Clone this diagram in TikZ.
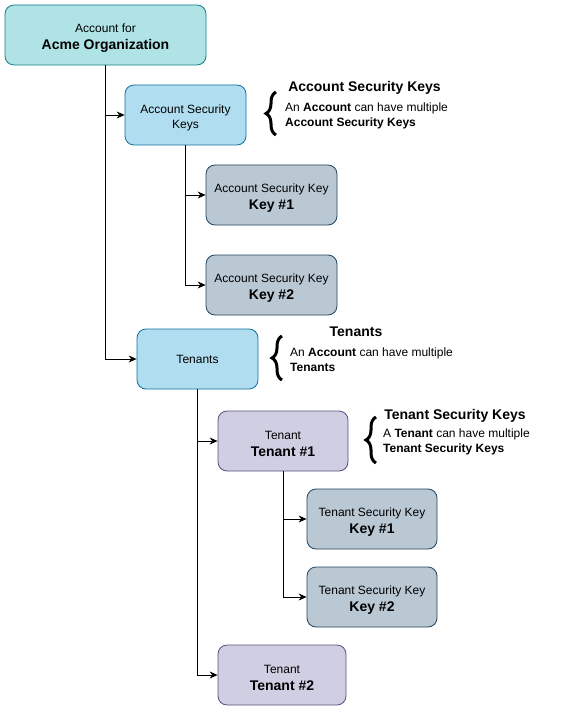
\documentclass[tikz,border=0pt]{standalone}
\usepackage{fontspec}
\setmainfont{Liberation Sans}
\usetikzlibrary{arrows.meta,decorations.pathreplacing}

\definecolor{acmefill}{HTML}{B0E3E6}
\definecolor{acmeline}{HTML}{0E8088}
\definecolor{bluefill}{HTML}{B1DDF0}
\definecolor{blueline}{HTML}{10739E}
\definecolor{keyfill}{HTML}{BAC8D3}
\definecolor{keyline}{HTML}{23445D}
\definecolor{tenfill}{HTML}{D0CEE2}
\definecolor{tenline}{HTML}{56517E}

\newcommand{\boldline}[1]{{\fontsize{14}{17}\selectfont\bfseries #1}}
\newcommand{\twoline}[2]{\rule{0pt}{15pt}#1\\[2pt]\boldline{#2}}

\begin{document}
\begin{tikzpicture}[x=1pt, y=-1pt,
    box/.style={draw, rounded corners=9pt, line width=0.8pt, minimum height=60pt,
      align=center, inner sep=2pt, font=\fontsize{12}{15}\selectfont},
    acmebox/.style={box, fill=acmefill, draw=acmeline, minimum width=201pt},
    groupbox/.style={box, fill=bluefill, draw=blueline, minimum width=121pt},
    keybox/.style={box, fill=keyfill, draw=keyline, minimum width=131pt},
    tenantbox/.style={box, fill=tenfill, draw=tenline, minimum width=130pt},
    link/.style={line width=0.8pt, -{Stealth[length=8pt,width=7pt]}},
    bracket/.style={line width=3pt, decorate, decoration={brace, amplitude=10pt}},
    notetitle/.style={font=\fontsize{14}{17}\selectfont\bfseries, inner sep=0pt},
    notetext/.style={anchor=north west, align=left, inner sep=0pt, font=\fontsize{12}{14.5}\selectfont}]
  \useasboundingbox (0,0) rectangle (564,711);

  \node[acmebox] (acme) at (105.5,35) {\twoline{Account for}{Acme Organization}};
  \node[groupbox] (ask) at (185.5,115) {\rule{0pt}{15pt}Account Security\\Keys};
  \node[keybox] (akey1) at (271.5,195) {\twoline{Account Security Key}{Key \#1}};
  \node[keybox] (akey2) at (271.5,285) {\twoline{Account Security Key}{Key \#2}};
  \node[groupbox] (tenants) at (197.5,359) {Tenants};
  \node[tenantbox] (tenant1) at (283,441) {\twoline{Tenant}{Tenant \#1}};
  \node[keybox, minimum width=130pt] (tkey1) at (372,519) {\twoline{Tenant Security Key}{Key \#1}};
  \node[keybox, minimum width=130pt] (tkey2) at (372,597) {\twoline{Tenant Security Key}{Key \#2}};
  \node[tenantbox, minimum width=128pt] (tenant2) at (282,675) {\twoline{Tenant}{Tenant \#2}};

  \draw[link] (acme.south) |- (ask.west);
  \draw[link] (acme.south) |- (tenants.west);
  \draw[link] (ask.south) |- (akey1.west);
  \draw[link] (ask.south) |- (akey2.west);
  \draw[link] (tenants.south) |- (tenant1.west);
  \draw[link] (tenants.south) |- (tenant2.west);
  \draw[link] (tenant1.south) |- (tkey1.west);
  \draw[link] (tenant1.south) |- (tkey2.west);

  \coordinate (askbrace1) at (276,135);
  \coordinate (askbrace2) at (276,92);
  \draw[bracket] (askbrace1) -- (askbrace2);
  \node[notetitle] (asktitle) at (364.5,88) {Account Security Keys};
  \node[notetext] (asknote) at (285,103) {An \textbf{Account} can have multiple\\\textbf{Account Security Keys}};

  \coordinate (tenbrace1) at (282,380);
  \coordinate (tenbrace2) at (282,336);
  \draw[bracket] (tenbrace1) -- (tenbrace2);
  \node[notetitle] (tentitle) at (356,332) {Tenants};
  \node[notetext] (tennote) at (290,348) {An \textbf{Account} can have multiple\\\textbf{Tenants}};

  \coordinate (tkbrace1) at (376,463);
  \coordinate (tkbrace2) at (376,417);
  \draw[bracket] (tkbrace1) -- (tkbrace2);
  \node[notetitle] (tktitle) at (455,416) {Tenant Security Keys};
  \node[notetext] (tknote) at (383,429) {A \textbf{Tenant} can have multiple\\\textbf{Tenant Security Keys}};
\end{tikzpicture}
\end{document}
